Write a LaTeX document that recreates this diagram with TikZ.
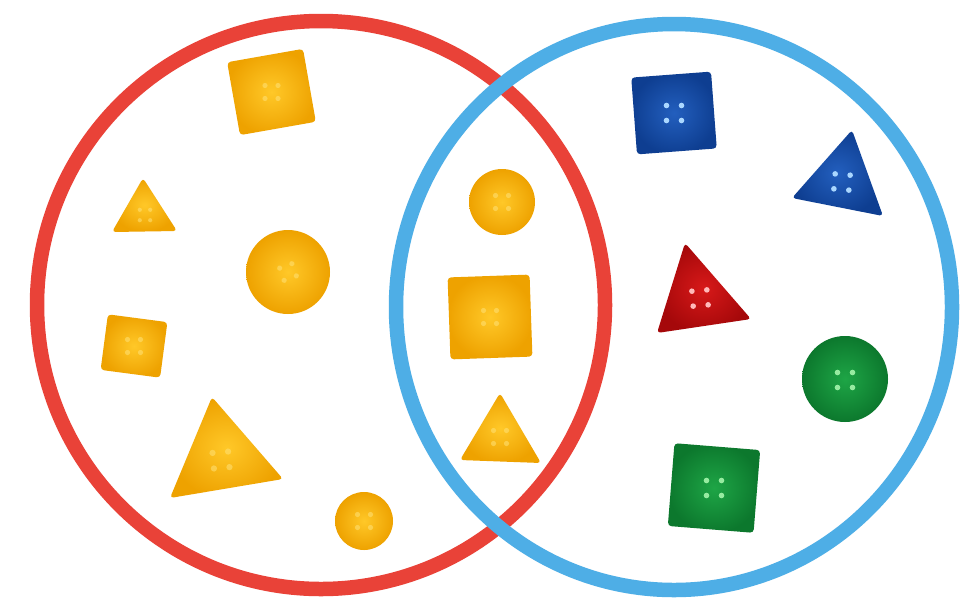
\documentclass[tikz,border=0pt]{standalone}
\begin{document}
\begin{tikzpicture}[x=1pt,y=-1pt,
  yel/.style={inner color={rgb,255:red,255;green,200;blue,40}, outer color={rgb,255:red,238;green,162;blue,0}, rounded corners=3.5pt},
  blu/.style={inner color={rgb,255:red,35;green,95;blue,190}, outer color={rgb,255:red,14;green,62;blue,145}, rounded corners=3.5pt},
  rdd/.style={inner color={rgb,255:red,215;green,25;blue,25}, outer color={rgb,255:red,165;green,8;blue,10}, rounded corners=3.5pt},
  grn/.style={inner color={rgb,255:red,30;green,165;blue,70}, outer color={rgb,255:red,12;green,120;blue,45}, rounded corners=3.5pt},
  ring/.style={line width=14.5pt},
  pics/holes/.style={code={
    \foreach \hx in {-7.5,7.5}{\foreach \hy in {-7.5,7.5}{\fill[#1] (\hx,\hy) circle (2.8);}}
  }},
  pics/yholes/.style={code={
    \foreach \hx in {-6.5,6.5}{\foreach \hy in {-6.5,6.5}{\fill[yhole, opacity=0.55] (\hx,\hy) circle (2.6);}}
  }}
]
\definecolor{redring}{RGB}{233,66,56}
\definecolor{bluering}{RGB}{78,174,230}
\definecolor{yhole}{RGB}{255,226,120}
\definecolor{bhole}{RGB}{170,215,255}
\definecolor{rhole}{RGB}{255,185,185}
\definecolor{ghole}{RGB}{150,235,160}
\fill[white] (0,0) rectangle (965,611);
\useasboundingbox (0,0) rectangle (965,611);

% rings (blue drawn over red)
\draw[ring, redring] (321,305) ellipse (284 and 284);
\draw[ring, bluering] (674,307) ellipse (278 and 283);

% --- left set (yellow) ---
\begin{scope}[shift={(271.5,92)}, rotate=10]
  \shade[yel] (-38.5,-37) rectangle (38.5,37);
  \pic {yholes};
\end{scope}
\shade[yel] (143,178) -- (177,231) -- (112,232) -- cycle;
\pic[scale=0.8] at (145,215) {yholes};
\shade[yel] (288,272) circle (42);
\pic[rotate=20] at (288,272) {yholes};
\begin{scope}[shift={(134,346)}, rotate=-7.5]
  \shade[yel] (-30,-28) rectangle (30,28);
  \pic {yholes};
\end{scope}
\shade[yel] (212,397) -- (283,479) -- (170,498) -- cycle;
\pic[rotate=5, scale=1.2] at (221,460) {yholes};
\shade[yel] (364,521) circle (29);
\pic at (364,521) {yholes};

% --- intersection (yellow) ---
\shade[yel] (502,202) circle (33);
\pic at (502,202) {yholes};
\begin{scope}[shift={(490,317)}, rotate=2]
  \shade[yel] (-41,-41) rectangle (41,41);
  \pic {yholes};
\end{scope}
\shade[yel] (500,393) -- (541,463) -- (460,460) -- cycle;
\pic at (500,437) {yholes};

% --- right set ---
\begin{scope}[shift={(674,113)}, rotate=4.3]
  \shade[blu] (-40,-38.5) rectangle (40,38.5);
  \pic {holes=bhole};
\end{scope}
\shade[blu] (852,130) -- (883,216) -- (792,198) -- cycle;
\pic[rotate=-5] at (842,182) {holes=bhole};
\shade[rdd] (685,243) -- (751,319) -- (657,333) -- cycle;
\pic[rotate=5] at (700,298) {holes=rhole};
\shade[grn] (845,379) circle (43);
\pic at (845,380) {holes=ghole};
\begin{scope}[shift={(714,488)}, rotate=-4.6]
  \shade[grn] (-43,-41.5) rectangle (43,41.5);
  \pic {holes=ghole};
\end{scope}
\end{tikzpicture}
\end{document}
